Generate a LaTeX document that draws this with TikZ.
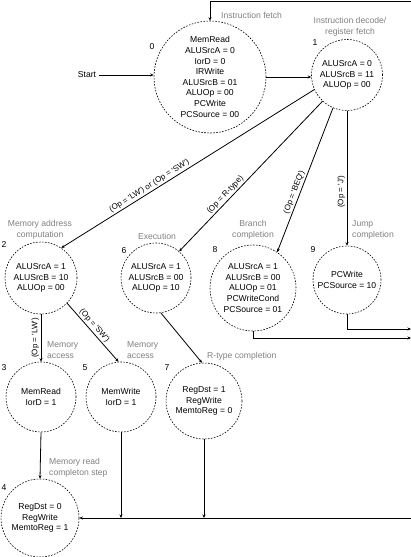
\documentclass[tikz,border=0pt]{standalone}
\usepackage{fontspec}
\setmainfont{Liberation Sans}
\usetikzlibrary{arrows.meta}
\newcommand{\sq}{\textquotesingle}
\begin{document}
\begin{tikzpicture}[x=1pt,y=-1pt,
  state/.style={circle,draw,dash pattern=on 1.6pt off 1.4pt,line width=0.6pt,inner sep=0pt,align=center,font=\fontsize{8.6}{10.6}\selectfont},
  captxt/.style={text=black!50,font=\fontsize{8.6}{10.6}\selectfont,align=center,inner sep=0pt},
  captxtl/.style={captxt,anchor=west,align=left},
  num/.style={font=\fontsize{8.6}{10.6}\selectfont,inner sep=0pt},
  lab/.style={font=\fontsize{8}{10}\selectfont,inner sep=1.5pt},
  conn/.style={line width=0.8pt,-{Stealth[length=3.5pt,width=3pt]}}]
\useasboundingbox (0,0) rectangle (411,557);
% states
\node[state,minimum size=112] (s0) at (210,77) {MemRead\\ALUSrcA = 0\\IorD = 0\\IRWrite\\ALUSrcB = 01\\ALUOp = 00\\PCWrite\\PCSource = 00};
\node[state,minimum size=71] (s1) at (347,75) {ALUSrcA = 0\\ALUSrcB = 11\\ALUOp = 00};
\node[state,minimum size=72] (s2) at (41,278) {ALUSrcA = 1\\ALUSrcB = 10\\ALUOp = 00};
\node[state,minimum size=70] (s6) at (156,278) {ALUSrcA = 1\\ALUSrcB = 00\\ALUOp = 10};
\node[state,minimum size=86] (s8) at (253,288) {ALUSrcA = 1\\ALUSrcB = 00\\ALUOp = 01\\PCWriteCond\\PCSource = 01};
\node[state,minimum size=68] (s9) at (347,280) {PCWrite\\PCSource = 10};
\node[state,minimum size=70] (s3) at (41,397) {MemRead\\IorD = 1};
\node[state,minimum size=70] (s5) at (121,397) {MemWrite\\IorD = 1};
\node[state,minimum size=76] (s7) at (204,401) {RegDst = 1\\RegWrite\\MemtoReg = 0};
\node[state,minimum size=78] (s4) at (40,518) {RegDst = 0\\RegWrite\\MemtoReg = 1};
% state numbers
\node[num] (n0) at (152,47) {0};
\node[num] (n1) at (315,43) {1};
\node[num] (n2) at (4,244) {2};
\node[num] (n6) at (124,251) {6};
\node[num] (n8) at (215,250) {8};
\node[num] (n9) at (313,250) {9};
\node[num] (n3) at (4,368) {3};
\node[num] (n5) at (85,368) {5};
\node[num] (n7) at (167,368) {7};
\node[num] (n4) at (4,488) {4};
% captions
\node[captxtl] (c0) at (221,15) {Instruction fetch};
\node[captxt] (c1) at (350,27) {Instruction decode/\\register fetch};
\node[captxt] (c2) at (40,230) {Memory address\\computation};
\node[captxt] (c6) at (157,236) {Execution};
\node[captxt] (c8) at (253,230) {Branch\\completion};
\node[captxtl] (c9) at (352,230) {Jump\\completion};
\node[captxtl] (c3) at (47,350) {Memory\\access};
\node[captxtl] (c5) at (127,350) {Memory\\access};
\node[captxtl] (c7) at (207,356) {R-type completion};
\node[captxtl] (c4) at (49,468) {Memory read\\completon step};
\node[num,inner sep=3pt] (start) at (87,75) {Start};
% coordinates at the free ends
\coordinate (tr) at (411,1.5);
\coordinate (r9) at (411,329);
\coordinate (r8) at (411,338);
\coordinate (br) at (411,518);
% connectors
\draw[conn] (start.east) -- (start.east -| s0.west);
\draw[conn] (s0.east) -- (s0.east -| s1.west);
\draw[conn] (tr) -- (tr -| s0.north) -- (s0.north);
\draw[conn] (s1.204) -- node[lab,sloped,above,pos=0.64]{(Op = \sq LW\sq) or (Op = \sq SW\sq)} (s2.56);
\draw[conn] (s1.227) -- node[lab,sloped,above,pos=0.65]{(Op = R-type)} (s6.49);
\draw[conn] (s1.247) -- node[lab,sloped,above,pos=0.6]{(Op = \sq BEQ\sq)} (s8.56);
\draw[conn] (s1.south) -- node[lab,rotate=90,anchor=south,pos=0.6]{(Op = \sq J\sq)} (s1.south |- s9.north);
\draw[conn] (s2.south) -- node[lab,rotate=90,anchor=south]{(Op = \sq LW\sq)} (s3.north);
\draw[conn] (s2.316) -- node[lab,sloped,above,pos=0.45]{(Op = \sq SW\sq)} (s5.94);
\draw[conn] (s6.278) -- (s7.93);
\draw[conn] (s3.south) -- (s4.north);
\draw[conn] (s5.south) -- (s5.south |- s4.east);
\draw[conn] (s7.south) -- (s7.south |- s4.east);
\draw[conn] (br) -- (s4.east);
\draw[conn] (s8.south) -- (s8.south |- r8) -- (r8);
\draw[conn] (s9.south) -- (s9.south |- r9) -- (r9);
\end{tikzpicture}
\end{document}
